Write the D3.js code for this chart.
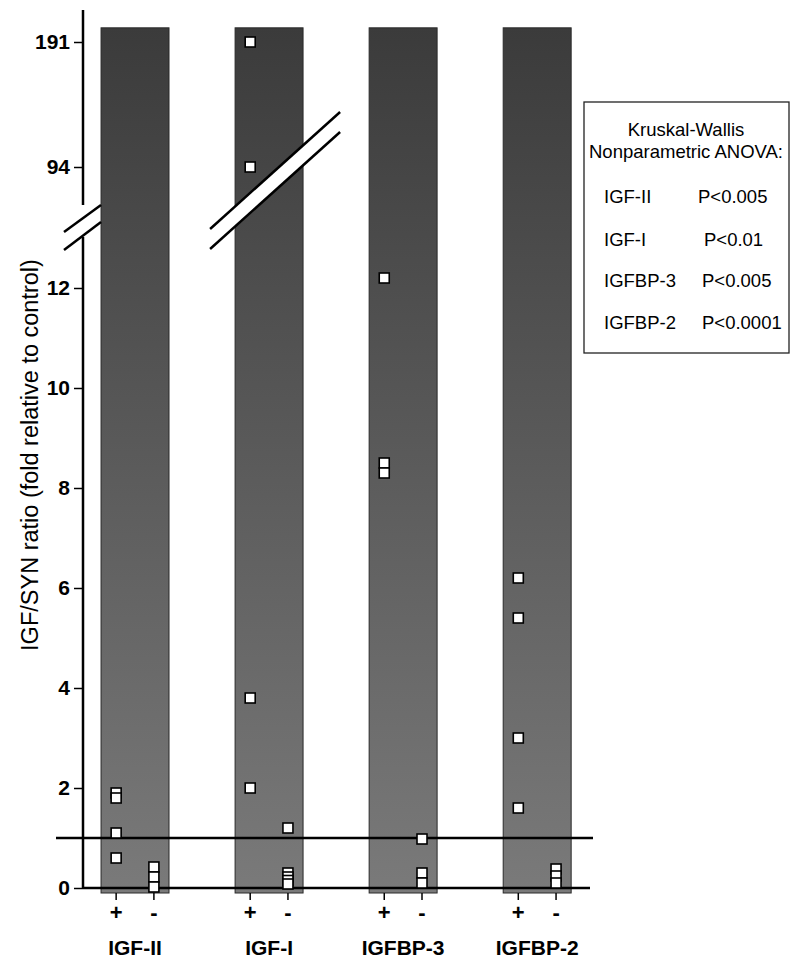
<!DOCTYPE html>
<html><head><meta charset="utf-8">
<script src="https://cdn.jsdelivr.net/npm/d3@7"></script>
<style>body{margin:0;background:#fff}svg{display:block}text{font-family:"Liberation Sans",Arial,sans-serif}</style>
</head><body><svg id="c" width="800" height="964"></svg>
<script>
// ---- data ----
const categories = ["IGF-II", "IGF-I", "IGFBP-3", "IGFBP-2"];
const groups = ["+", "-"];
const plusValues = [
  [1.9, 1.8, 1.1, 0.6],
  [191, 94, 3.8, 2.0],
  [12.2, 8.5, 8.3],
  [6.2, 5.4, 3.0, 1.6]
];
const minusValues = [
  [0.42, 0.22, 0.02],
  [1.2, 0.3, 0.22, 0.15, 0.08],
  [0.98, 0.3, 0.1],
  [0.38, 0.24, 0.1]
];
const lowTicks = [0, 2, 4, 6, 8, 10, 12];
const highTicks = [94, 191];
const controlLevel = 1;
const barTopValue = 202;
const legendTitle = ["Kruskal-Wallis", "Nonparametric ANOVA:"];
const legendNames = ["IGF-II", "IGF-I", "IGFBP-3", "IGFBP-2"];
const legendP = ["P<0.005", "P<0.01", "P<0.005", "P<0.0001"];

// ---- scales ----
const svg = d3.select("#c");
const axisX = 83;
const yLow = d3.scaleLinear().domain([0, 13]).range([888, 238]);
const yHigh = d3.scaleLinear().domain([94, 191]).range([167, 42]);
const yv = v => v > 20 ? yHigh(v) : yLow(v);
const x = d3.scaleBand().domain(categories).range([68, 604.2]).paddingInner(0.493).paddingOuter(0.2465);
const xs = d3.scalePoint().domain(groups).range([0, x.bandwidth()]).padding(0.4);

// gradient
const defs = svg.append("defs");
const g = defs.append("linearGradient").attr("id", "bg").attr("x1", 0).attr("y1", 0).attr("x2", 0).attr("y2", 1);
g.append("stop").attr("offset", "0%").attr("stop-color", "#3b3b3b");
g.append("stop").attr("offset", "100%").attr("stop-color", "#7a7a7a");

// bars
svg.selectAll("rect.bar").data(categories).join("rect").attr("class", "bar")
  .attr("x", d => x(d)).attr("width", x.bandwidth())
  .attr("y", yHigh(barTopValue)).attr("height", yLow(-0.1) - yHigh(barTopValue))
  .attr("fill", "url(#bg)").attr("stroke", "#2a2a2a").attr("stroke-width", 1);

// break in IGF-I bar
const bx = x("IGF-I");
const b1 = [[bx - 25, 229], [bx + 105, 112]];
const b2 = [[bx - 25, 249], [bx + 105, 132]];
svg.append("polygon").attr("points", [b1[0], b1[1], b2[1], b2[0]].map(p => p.join(",")).join(" ")).attr("fill", "#fff");
[b1, b2].forEach(l => svg.append("line").attr("x1", l[0][0]).attr("y1", l[0][1]).attr("x2", l[1][0]).attr("y2", l[1][1])
  .attr("stroke", "#000").attr("stroke-width", 2.5));

// axis lines (two segments)
svg.append("line").attr("x1", axisX).attr("x2", axisX).attr("y1", 10).attr("y2", 205).attr("stroke", "#000").attr("stroke-width", 2.5);
svg.append("line").attr("x1", axisX).attr("x2", axisX).attr("y1", 237).attr("y2", yLow(0)).attr("stroke", "#000").attr("stroke-width", 2.5);
// axis break marks
[[[64, 232], [101, 205]], [[64, 250], [101, 222]]].forEach(l => svg.append("line")
  .attr("x1", l[0][0]).attr("y1", l[0][1]).attr("x2", l[1][0]).attr("y2", l[1][1]).attr("stroke", "#000").attr("stroke-width", 2.5));

// ticks
const axL = svg.append("g").attr("transform", `translate(${axisX},0)`)
  .call(d3.axisLeft(yLow).tickValues(lowTicks).tickSize(9).tickPadding(4));
const axH = svg.append("g").attr("transform", `translate(${axisX},0)`)
  .call(d3.axisLeft(yHigh).tickValues(highTicks).tickSize(9).tickPadding(4));
[axL, axH].forEach(a => {
  a.select(".domain").remove();
  a.selectAll("line").attr("stroke", "#000").attr("stroke-width", 1.5);
  a.selectAll("text").attr("font-size", 21).attr("font-weight", "bold").attr("fill", "#000")
    .attr("font-family", '"Liberation Sans",Arial,sans-serif');
});

// reference lines
svg.append("line").attr("x1", 56).attr("x2", 593).attr("y1", yLow(controlLevel)).attr("y2", yLow(controlLevel)).attr("stroke", "#000").attr("stroke-width", 2.5);
svg.append("line").attr("x1", axisX).attr("x2", 590).attr("y1", yLow(0)).attr("y2", yLow(0)).attr("stroke", "#000").attr("stroke-width", 2.5);

// group ticks + labels
categories.forEach(c => groups.forEach(gr => {
  const px = x(c) + xs(gr);
  svg.append("line").attr("x1", px).attr("x2", px).attr("y1", yLow(-0.1)).attr("y2", yLow(-0.24)).attr("stroke", "#000").attr("stroke-width", 1.5);
  svg.append("text").attr("x", px).attr("y", 920).attr("text-anchor", "middle").attr("font-size", 22).attr("font-weight", "bold").text(gr);
}));
svg.selectAll("text.cat").data(categories).join("text").attr("class", "cat")
  .attr("x", d => x(d) + x.bandwidth() / 2).attr("y", 955).attr("text-anchor", "middle")
  .attr("font-size", 21).attr("font-weight", "bold").text(d => d);

// points
const pts = [];
categories.forEach((c, i) => {
  plusValues[i].forEach(v => pts.push({c, g: "+", v}));
  minusValues[i].forEach(v => pts.push({c, g: "-", v}));
});
const s = 10;
svg.selectAll("rect.pt").data(pts).join("rect").attr("class", "pt")
  .attr("x", d => x(d.c) + xs(d.g) - s / 2).attr("y", d => yv(d.v) - s / 2)
  .attr("width", s).attr("height", s).attr("fill", "#fff").attr("stroke", "#000").attr("stroke-width", 1.6);

// y label
svg.append("text").attr("transform", "translate(38,455) rotate(-90)").attr("text-anchor", "middle")
  .attr("font-size", 23.5).text("IGF/SYN ratio (fold relative to control)");

// legend
const lg = svg.append("g");
lg.append("rect").attr("x", 584).attr("y", 102).attr("width", 205).attr("height", 251).attr("fill", "#fff").attr("stroke", "#222").attr("stroke-width", 1.3);
legendTitle.forEach((t, i) => lg.append("text").attr("x", 686).attr("y", 136 + i * 22).attr("text-anchor", "middle").attr("font-size", 18.5).text(t));
const rowY = [203, 246, 287, 329];
legendNames.forEach((n, i) => {
  lg.append("text").attr("x", 604).attr("y", rowY[i]).attr("font-size", 18.5).text(n);
  lg.append("text").attr("x", i === 1 ? 704 : 698 + (i > 1 ? 4 : 0)).attr("y", rowY[i]).attr("font-size", 18.5).text(legendP[i]);
});
</script></body></html>
